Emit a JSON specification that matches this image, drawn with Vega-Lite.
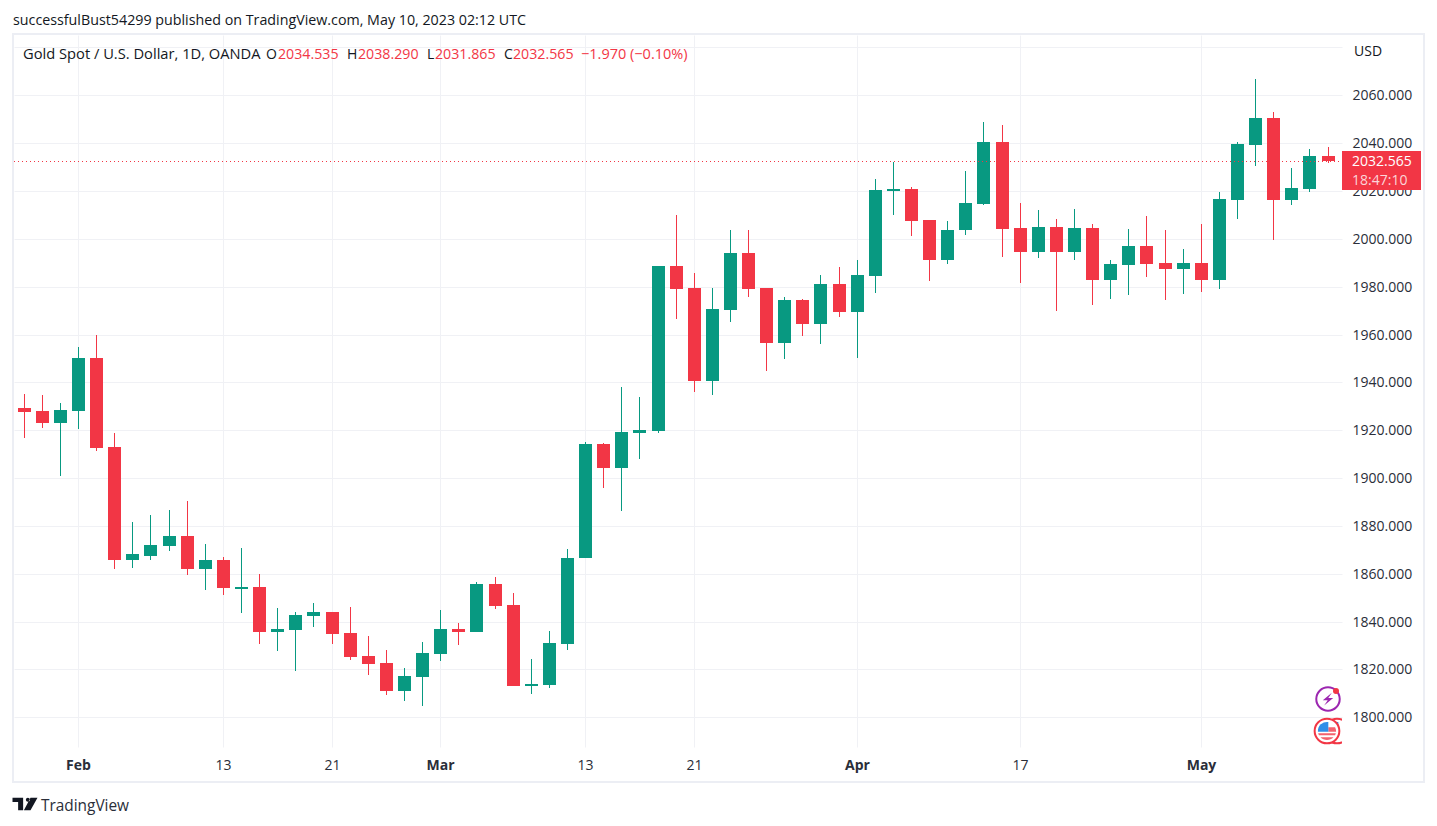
{
  "$schema": "https://vega.github.io/schema/vega-lite/v6.json",
  "width": 1328,
  "height": 712,
  "autosize": {"type": "none"},
  "padding": {"left": 14, "top": 35, "right": 95, "bottom": 79},
  "background": "#ffffff",
  "title": {
    "text": "successfulBust54299 published on TradingView.com, May 10, 2023 02:12 UTC",
    "anchor": "start",
    "frame": "group",
    "dx": -1,
    "offset": 5,
    "fontSize": 14.28,
    "fontWeight": "normal",
    "color": "#131722"
  },
  "datasets": {
    "candles": [
      {"date": "2023-01-27", "day": 0, "open": 1929.3, "high": 1935.1, "low": 1916.8, "close": 1927.6},
      {"date": "2023-01-30", "day": 1, "open": 1928.1, "high": 1934.7, "low": 1921.0, "close": 1923.1},
      {"date": "2023-01-31", "day": 2, "open": 1923.1, "high": 1931.4, "low": 1901.0, "close": 1928.5},
      {"date": "2023-02-01", "day": 3, "open": 1928.1, "high": 1954.7, "low": 1920.6, "close": 1950.1},
      {"date": "2023-02-02", "day": 4, "open": 1950.1, "high": 1959.7, "low": 1911.4, "close": 1912.6},
      {"date": "2023-02-03", "day": 5, "open": 1913.1, "high": 1918.9, "low": 1861.8, "close": 1865.6},
      {"date": "2023-02-06", "day": 6, "open": 1865.6, "high": 1881.8, "low": 1862.6, "close": 1868.1},
      {"date": "2023-02-07", "day": 7, "open": 1867.6, "high": 1884.7, "low": 1865.6, "close": 1872.2},
      {"date": "2023-02-08", "day": 8, "open": 1871.8, "high": 1886.8, "low": 1869.7, "close": 1876.0},
      {"date": "2023-02-09", "day": 9, "open": 1876.0, "high": 1890.6, "low": 1859.3, "close": 1861.8},
      {"date": "2023-02-10", "day": 10, "open": 1861.8, "high": 1872.6, "low": 1853.2, "close": 1865.6},
      {"date": "2023-02-13", "day": 11, "open": 1865.6, "high": 1867.2, "low": 1851.0, "close": 1853.9},
      {"date": "2023-02-14", "day": 12, "open": 1853.5, "high": 1870.6, "low": 1843.5, "close": 1854.3},
      {"date": "2023-02-15", "day": 13, "open": 1854.3, "high": 1860.0, "low": 1830.6, "close": 1835.6},
      {"date": "2023-02-16", "day": 14, "open": 1835.6, "high": 1845.6, "low": 1827.6, "close": 1836.8},
      {"date": "2023-02-17", "day": 15, "open": 1836.4, "high": 1843.9, "low": 1819.3, "close": 1842.6},
      {"date": "2023-02-20", "day": 16, "open": 1842.2, "high": 1847.6, "low": 1837.6, "close": 1843.9},
      {"date": "2023-02-21", "day": 17, "open": 1843.9, "high": 1843.9, "low": 1830.6, "close": 1834.7},
      {"date": "2023-02-22", "day": 18, "open": 1835.1, "high": 1846.0, "low": 1823.9, "close": 1825.1},
      {"date": "2023-02-23", "day": 19, "open": 1825.6, "high": 1833.9, "low": 1817.6, "close": 1822.2},
      {"date": "2023-02-24", "day": 20, "open": 1822.6, "high": 1828.1, "low": 1809.3, "close": 1811.0},
      {"date": "2023-02-27", "day": 21, "open": 1811.0, "high": 1820.6, "low": 1806.8, "close": 1817.2},
      {"date": "2023-02-28", "day": 22, "open": 1816.8, "high": 1831.4, "low": 1804.7, "close": 1826.8},
      {"date": "2023-03-01", "day": 23, "open": 1826.4, "high": 1844.7, "low": 1823.5, "close": 1836.8},
      {"date": "2023-03-02", "day": 24, "open": 1836.8, "high": 1839.3, "low": 1830.1, "close": 1835.6},
      {"date": "2023-03-03", "day": 25, "open": 1835.6, "high": 1856.4, "low": 1835.6, "close": 1855.6},
      {"date": "2023-03-06", "day": 26, "open": 1855.6, "high": 1858.5, "low": 1845.1, "close": 1846.4},
      {"date": "2023-03-07", "day": 27, "open": 1846.8, "high": 1851.8, "low": 1813.0, "close": 1813.0},
      {"date": "2023-03-08", "day": 28, "open": 1813.0, "high": 1824.3, "low": 1809.7, "close": 1813.9},
      {"date": "2023-03-09", "day": 29, "open": 1813.4, "high": 1836.0, "low": 1812.2, "close": 1831.0},
      {"date": "2023-03-10", "day": 30, "open": 1830.6, "high": 1870.3, "low": 1828.1, "close": 1866.8},
      {"date": "2023-03-13", "day": 31, "open": 1866.8, "high": 1915.1, "low": 1866.5, "close": 1914.3},
      {"date": "2023-03-14", "day": 32, "open": 1914.3, "high": 1914.7, "low": 1896.0, "close": 1904.3},
      {"date": "2023-03-15", "day": 33, "open": 1904.3, "high": 1938.1, "low": 1886.4, "close": 1919.3},
      {"date": "2023-03-16", "day": 34, "open": 1918.9, "high": 1933.9, "low": 1908.1, "close": 1920.1},
      {"date": "2023-03-17", "day": 35, "open": 1919.7, "high": 1988.5, "low": 1918.9, "close": 1988.5},
      {"date": "2023-03-20", "day": 36, "open": 1988.5, "high": 2010.1, "low": 1966.4, "close": 1978.9},
      {"date": "2023-03-21", "day": 37, "open": 1979.3, "high": 1985.6, "low": 1936.0, "close": 1940.6},
      {"date": "2023-03-22", "day": 38, "open": 1940.6, "high": 1979.3, "low": 1934.7, "close": 1970.6},
      {"date": "2023-03-23", "day": 39, "open": 1970.1, "high": 2003.5, "low": 1965.1, "close": 1993.9},
      {"date": "2023-03-24", "day": 40, "open": 1993.9, "high": 2003.5, "low": 1975.6, "close": 1978.9},
      {"date": "2023-03-27", "day": 41, "open": 1979.3, "high": 1979.3, "low": 1944.7, "close": 1956.4},
      {"date": "2023-03-28", "day": 42, "open": 1956.4, "high": 1975.6, "low": 1949.7, "close": 1974.3},
      {"date": "2023-03-29", "day": 43, "open": 1974.3, "high": 1974.7, "low": 1959.3, "close": 1964.3},
      {"date": "2023-03-30", "day": 44, "open": 1964.3, "high": 1984.7, "low": 1956.0, "close": 1981.0},
      {"date": "2023-03-31", "day": 45, "open": 1981.0, "high": 1988.1, "low": 1967.2, "close": 1969.3},
      {"date": "2023-04-03", "day": 46, "open": 1969.3, "high": 1991.0, "low": 1950.1, "close": 1984.7},
      {"date": "2023-04-04", "day": 47, "open": 1984.3, "high": 2025.1, "low": 1977.2, "close": 2020.6},
      {"date": "2023-04-05", "day": 48, "open": 2020.1, "high": 2032.2, "low": 2010.1, "close": 2021.0},
      {"date": "2023-04-06", "day": 49, "open": 2021.0, "high": 2021.8, "low": 2001.0, "close": 2007.6},
      {"date": "2023-04-10", "day": 50, "open": 2008.0, "high": 2008.0, "low": 1982.2, "close": 1991.0},
      {"date": "2023-04-11", "day": 51, "open": 1991.0, "high": 2007.6, "low": 1989.3, "close": 2003.9},
      {"date": "2023-04-12", "day": 52, "open": 2003.5, "high": 2028.5, "low": 2001.4, "close": 2015.1},
      {"date": "2023-04-13", "day": 53, "open": 2014.7, "high": 2048.9, "low": 2014.3, "close": 2040.6},
      {"date": "2023-04-14", "day": 54, "open": 2040.6, "high": 2047.6, "low": 1992.6, "close": 2004.3},
      {"date": "2023-04-17", "day": 55, "open": 2004.7, "high": 2015.1, "low": 1981.4, "close": 1994.7},
      {"date": "2023-04-18", "day": 56, "open": 1994.7, "high": 2012.2, "low": 1991.8, "close": 2005.1},
      {"date": "2023-04-19", "day": 57, "open": 2005.1, "high": 2008.5, "low": 1969.7, "close": 1994.7},
      {"date": "2023-04-20", "day": 58, "open": 1994.7, "high": 2012.6, "low": 1991.0, "close": 2004.7},
      {"date": "2023-04-21", "day": 59, "open": 2004.7, "high": 2006.0, "low": 1972.2, "close": 1982.6},
      {"date": "2023-04-24", "day": 60, "open": 1982.6, "high": 1991.0, "low": 1974.7, "close": 1989.3},
      {"date": "2023-04-25", "day": 61, "open": 1988.9, "high": 2004.3, "low": 1976.4, "close": 1997.2},
      {"date": "2023-04-26", "day": 62, "open": 1997.2, "high": 2009.7, "low": 1983.9, "close": 1989.3},
      {"date": "2023-04-27", "day": 63, "open": 1989.7, "high": 2003.5, "low": 1974.3, "close": 1987.6},
      {"date": "2023-04-28", "day": 64, "open": 1987.6, "high": 1995.6, "low": 1976.8, "close": 1989.7},
      {"date": "2023-05-01", "day": 65, "open": 1989.7, "high": 2006.4, "low": 1977.6, "close": 1982.6},
      {"date": "2023-05-02", "day": 66, "open": 1982.6, "high": 2019.7, "low": 1978.9, "close": 2016.8},
      {"date": "2023-05-03", "day": 67, "open": 2016.4, "high": 2040.6, "low": 2008.1, "close": 2039.7},
      {"date": "2023-05-04", "day": 68, "open": 2039.3, "high": 2066.8, "low": 2030.6, "close": 2050.6},
      {"date": "2023-05-05", "day": 69, "open": 2050.6, "high": 2053.1, "low": 1999.7, "close": 2016.4},
      {"date": "2023-05-08", "day": 70, "open": 2016.4, "high": 2029.7, "low": 2014.3, "close": 2021.4},
      {"date": "2023-05-09", "day": 71, "open": 2021.0, "high": 2037.6, "low": 2019.7, "close": 2034.7},
      {"date": "2023-05-10", "day": 72, "open": 2034.535, "high": 2038.29, "low": 2031.865, "close": 2032.565}
    ]
  },
  "encoding": {
    "x": {
      "field": "day",
      "type": "quantitative",
      "scale": {"domain": [-0.533, 72.796], "nice": false, "zero": false, "round": true, "padding": 0},
      "axis": {
        "values": [3, 11, 17, 23, 31, 37, 46, 55, 65],
        "labelExpr": "{'3':'Feb','11':'13','17':'21','23':'Mar','31':'13','37':'21','46':'Apr','55':'17','65':'May'}['' + datum.value]",
        "labelFontWeight": {"expr": "indexof([3,23,46,65], datum.value) >= 0 ? 'bold' : 'normal'"},
        "labelPadding": 11,
        "labelFlush": false,
        "labelOverlap": false
      }
    }
  },
  "layer": [
    {
      "data": {"name": "candles"},
      "mark": {"type": "rule", "strokeWidth": 1, "xOffset": 0.5},
      "encoding": {
        "y": {
          "field": "low",
          "type": "quantitative",
          "scale": {"domain": [1787.6, 2085.2], "nice": false, "zero": false, "round": true},
          "axis": {
            "orient": "right",
            "values": [1800, 1820, 1840, 1860, 1880, 1900, 1920, 1940, 1960, 1980, 2000, 2020, 2040, 2060, 2080],
            "labelExpr": "datum.value > 2070 ? '' : format(datum.value, '.3f')",
            "labelPadding": 10,
            "labelOffset": 0,
            "labelOverlap": false
          }
        },
        "y2": {"field": "high"},
        "color": {
          "condition": {"test": "datum.close >= datum.open", "value": "#089981"},
          "value": "#f23645"
        }
      }
    },
    {
      "data": {"name": "candles"},
      "mark": {"type": "bar", "width": 13, "xOffset": 0.5},
      "encoding": {
        "y": {"field": "open", "type": "quantitative"},
        "y2": {"field": "close"},
        "color": {
          "condition": {"test": "datum.close >= datum.open", "value": "#089981"},
          "value": "#f23645"
        }
      }
    },
    {
      "data": {"values": [{"day": -0.533, "end": 72.796, "price": 2032.565}]},
      "mark": {"type": "rule", "color": "#f23645", "strokeWidth": 1, "strokeDash": [1, 3], "yOffset": 0.5},
      "encoding": {
        "x2": {"field": "end"},
        "y": {"field": "price", "type": "quantitative"}
      }
    },
    {
      "data": {"values": [{"day": -0.588, "end": 77.33, "top": 2085.6, "bottom": 1773}]},
      "mark": {"type": "rect", "fill": null, "stroke": "#eceef4", "strokeWidth": 2},
      "encoding": {
        "x2": {"field": "end"},
        "y": {"field": "top", "type": "quantitative"},
        "y2": {"field": "bottom"}
      }
    },
    {
      "data": {"values": [{"day": 72.796, "end": 77.15, "top": 2036.7, "bottom": 2020.4}]},
      "mark": {"type": "rect", "fill": "#f23645"},
      "encoding": {
        "x2": {"field": "end"},
        "y": {"field": "top", "type": "quantitative"},
        "y2": {"field": "bottom"}
      }
    },
    {
      "data": {"values": [
        {"day": 73.35, "price": 2032.3, "label": "2032.565"}
      ]},
      "mark": {"type": "text", "align": "left", "baseline": "middle", "fontSize": 14, "color": "#ffffff"},
      "encoding": {
        "y": {"field": "price", "type": "quantitative"},
        "text": {"field": "label"}
      }
    },
    {
      "data": {"values": [
        {"day": 73.35, "price": 2024.0, "label": "18:47:10"}
      ]},
      "mark": {"type": "text", "align": "left", "baseline": "middle", "fontSize": 14, "color": "#fbd5d9"},
      "encoding": {
        "y": {"field": "price", "type": "quantitative"},
        "text": {"field": "label"}
      }
    },
    {
      "data": {"values": [
        {"day": -0.05, "price": 2077.0, "label": "Gold Spot / U.S. Dollar, 1D, OANDA"}
      ]},
      "mark": {"type": "text", "align": "left", "baseline": "middle", "fontSize": 14.7, "color": "#131722"},
      "encoding": {
        "y": {"field": "price", "type": "quantitative"},
        "text": {"field": "label"}
      }
    },
    {
      "data": {"values": [
        {"day": 13.37, "price": 2077.0, "label": "O"},
        {"day": 17.87, "price": 2077.0, "label": "H"},
        {"day": 22.25, "price": 2077.0, "label": "L"},
        {"day": 26.52, "price": 2077.0, "label": "C"},
        {"day": 73.47, "price": 2078.0, "label": "USD"}
      ]},
      "mark": {"type": "text", "align": "left", "baseline": "middle", "fontSize": 14, "color": "#131722"},
      "encoding": {
        "y": {"field": "price", "type": "quantitative"},
        "text": {"field": "label"}
      }
    },
    {
      "data": {"values": [
        {"day": 0.95, "price": 1762.9, "label": "TradingView"}
      ]},
      "mark": {"type": "text", "align": "left", "baseline": "middle", "fontSize": 15.4, "color": "#2a2e39"},
      "encoding": {
        "y": {"field": "price", "type": "quantitative"},
        "text": {"field": "label"}
      }
    },
    {
      "data": {"values": [
        {"day": 14.02, "price": 2077.0, "label": "2034.535"},
        {"day": 18.44, "price": 2077.0, "label": "2038.290"},
        {"day": 22.71, "price": 2077.0, "label": "2031.865"},
        {"day": 27.0, "price": 2077.0, "label": "2032.565"}
      ]},
      "mark": {"type": "text", "align": "left", "baseline": "middle", "fontSize": 14.2, "color": "#f23645"},
      "encoding": {
        "y": {"field": "price", "type": "quantitative"},
        "text": {"field": "label"}
      }
    },
    {
      "data": {"values": [
        {"day": 30.8, "price": 2077.0, "label": "−1.970 (−0.10%)"}
      ]},
      "mark": {"type": "text", "align": "left", "baseline": "middle", "fontSize": 14.5, "color": "#f23645"},
      "encoding": {
        "y": {"field": "price", "type": "quantitative"},
        "text": {"field": "label"}
      }
    },
    {
      "data": {"values": [{"day": 0.05, "price": 1763.8}]},
      "mark": {
        "type": "point",
        "filled": true,
        "opacity": 1,
        "size": 625,
        "color": "#131722",
        "shape": "M -1 -0.5 L -0.15 -0.5 L -0.15 0.5 L -0.55 0.5 L -0.55 -0.16 L -1 -0.16 Z M 0.07 -0.35 A 0.16 0.16 0 1 0 0.39 -0.35 A 0.16 0.16 0 1 0 0.07 -0.35 Z M 0.44 -0.5 L 1 -0.5 L 0.44 0.5 L -0.09 0.5 Z"
      },
      "encoding": {
        "y": {"field": "price", "type": "quantitative"}
      }
    },
    {
      "data": {"values": [{"day": 72.0, "price": 1807.5}]},
      "mark": {"type": "point", "filled": false, "opacity": 1, "size": 550, "color": "#9c27b0", "strokeWidth": 2, "fill": "#ffffff", "fillOpacity": 1, "shape": "circle"},
      "encoding": {
        "y": {"field": "price", "type": "quantitative"}
      }
    },
    {
      "data": {"values": [{"day": 72.0, "price": 1807.5}]},
      "mark": {
        "type": "point",
        "filled": true,
        "opacity": 1,
        "size": 750,
        "color": "#9c27b0",
        "shape": "M 0.28 -0.45 L -0.38 0.1 L -0.02 0.1 L -0.28 0.48 L 0.38 -0.07 L 0.02 -0.07 Z"
      },
      "encoding": {
        "y": {"field": "price", "type": "quantitative"}
      }
    },
    {
      "data": {"values": [{"day": 72.46, "price": 1811}]},
      "mark": {"type": "point", "filled": true, "opacity": 1, "size": 36, "color": "#f23645", "shape": "circle"},
      "encoding": {
        "y": {"field": "price", "type": "quantitative"}
      }
    },
    {
      "data": {"values": [{"day": 72.5, "price": 1794.3}]},
      "layer": [
        {
          "mark": {"type": "point", "clip": true, "filled": false, "opacity": 1, "size": 610, "color": "#f23645", "strokeWidth": 2, "fill": "#ffffff", "fillOpacity": 1, "shape": "circle"},
          "encoding": {
            "y": {"field": "price", "type": "quantitative"}
          }
        },
        {
          "mark": {
            "type": "point",
            "clip": true,
            "filled": true,
            "opacity": 1,
            "size": 676,
            "color": "#2f8fe8",
            "shape": "M -0.7 0.05 A 0.7 0.7 0 0 1 0.1 -0.69 L 0.1 0.05 Z"
          },
          "encoding": {
            "y": {"field": "price", "type": "quantitative"}
          }
        }
      ]
    },
    {
      "data": {"values": [{"day": 71.98, "price": 1794.3}]},
      "layer": [
        {
          "mark": {"type": "point", "filled": false, "opacity": 1, "size": 610, "color": "#f23645", "strokeWidth": 2, "fill": "#ffffff", "fillOpacity": 1, "shape": "circle"},
          "encoding": {
            "y": {"field": "price", "type": "quantitative"}
          }
        },
        {
          "mark": {
            "type": "point",
            "filled": true,
            "opacity": 1,
            "size": 676,
            "color": "#f4616e",
            "shape": "M 0.1 -0.28 L 0.62 -0.28 A 0.7 0.7 0 0 1 0.7 0.05 L 0.1 0.05 Z M -0.68 0.18 L 0.68 0.18 A 0.7 0.7 0 0 1 0.62 0.32 L -0.62 0.32 A 0.7 0.7 0 0 1 -0.68 0.18 Z M -0.5 0.48 L 0.5 0.48 A 0.7 0.7 0 0 1 -0.5 0.48 Z"
          },
          "encoding": {
            "y": {"field": "price", "type": "quantitative"}
          }
        },
        {
          "mark": {
            "type": "point",
            "filled": true,
            "opacity": 1,
            "size": 676,
            "color": "#2f8fe8",
            "shape": "M -0.7 0.05 A 0.7 0.7 0 0 1 0.1 -0.69 L 0.1 0.05 Z"
          },
          "encoding": {
            "y": {"field": "price", "type": "quantitative"}
          }
        }
      ]
    }
  ],
  "config": {
    "font": "Open Sans",
    "view": {"stroke": null},
    "axis": {
      "domain": false,
      "ticks": false,
      "title": null,
      "grid": true,
      "gridColor": "#f0f1f5",
      "gridWidth": 1,
      "labelFontSize": 14,
      "labelColor": "#2a2e39"
    }
  }
}
